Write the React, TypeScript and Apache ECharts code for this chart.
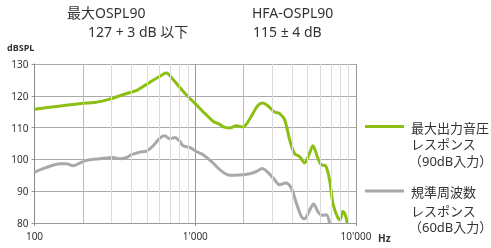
import React, { useEffect, useRef } from "react";
import * as echarts from "echarts";

const maxOutput: [number, number][] = [
  [100, 115.8], [195, 117.6], [237, 117.9], [286, 118.8], [363, 120.5], [439, 121.9],
  [498, 123.6], [631, 126.8], [662, 127.2], [728, 125.1], [840, 121.4], [924, 119.2],
  [993, 117.7], [1118, 115.0], [1174, 114.0], [1290, 112.0], [1420, 111.0], [1489, 110.3],
  [1563, 110.0], [1638, 109.9], [1803, 110.6], [1981, 110.2], [2181, 112.7], [2455, 117.0],
  [2637, 117.7], [2833, 116.8], [3117, 114.9], [3348, 114.4], [3597, 112.5], [3864, 106.2],
  [4150, 101.8], [4457, 100.9], [4786, 98.9], [5143, 102.0], [5391, 104.3], [5789, 100.4],
  [6080, 98.3], [6466, 98.0], [6845, 93.6], [7177, 86.3], [7709, 81.6], [7979, 81.0],
  [8280, 83.6], [8570, 82.6], [8818, 80.0],
];

const reference: [number, number][] = [
  [100, 96.0], [119, 97.5], [144, 98.6], [158, 98.6], [174, 98.0], [192, 98.9],
  [211, 99.7], [255, 100.2], [309, 100.6], [340, 100.2], [374, 100.6], [402, 101.5],
  [452, 102.3], [498, 102.6], [547, 104.3], [602, 106.7], [647, 107.4], [694, 106.5],
  [746, 106.9], [801, 105.7], [840, 104.3], [924, 103.8], [1017, 102.5], [1118, 101.5],
  [1260, 99.4], [1420, 96.8], [1638, 95.0], [1890, 95.1], [2181, 95.5], [2400, 96.2],
  [2615, 97.1], [2833, 95.9], [3117, 93.6], [3348, 92.0], [3649, 92.6], [3959, 91.0],
  [4253, 86.3], [4567, 82.1], [4786, 81.3], [5143, 84.0], [5445, 86.0], [5789, 83.6],
  [6167, 82.4], [6530, 82.6], [6845, 80.0],
];

const mediumGrid = [200, 2000];
const lightGrid = [300, 400, 500, 600, 700, 800, 900, 3000, 4000, 5000, 6000, 7000, 8000, 9000];

const legendMax = ["最大出力音圧", "レスポンス", "（90dB入力）"];
const legendRef = ["規準周波数", "レスポンス", "（60dB入力）"];

const GREEN = "#8cbe14";
const GRAY = "#a8a8a8";
const FONT = "'Noto Sans', 'Noto Sans CJK JP', sans-serif";

export default function App() {
  const ref = useRef<HTMLDivElement>(null);
  useEffect(() => {
    if (!ref.current) return;
    const chart = echarts.init(ref.current, null, { renderer: "svg" });
    const ts = (text: string, size: number, extra: any = {}) => ({
      fontFamily: FONT,
      fontSize: size,
      fill: "#333",
      text,
      verticalAlign: "middle",
      align: "left",
      ...extra,
    });
    chart.setOption({
      animation: false,
      grid: { left: 34.5, right: 135, top: 64, bottom: 25 },
      xAxis: {
        type: "log",
        logBase: 10,
        min: 100,
        max: 10000,
        axisLine: { lineStyle: { color: "#999" } },
        axisTick: { show: true, length: 3, lineStyle: { color: "#999" } },
        axisLabel: {
          fontFamily: FONT,
          fontSize: 10,
          color: "#333",
          margin: 8,
          formatter: (v: number) => String(Math.round(v)).replace(/\B(?=(\d{3})+(?!\d))/g, "'"),
        },
        splitLine: { show: true, lineStyle: { color: "#999", width: 1 } },
      },
      yAxis: {
        type: "value",
        min: 80,
        max: 130,
        interval: 10,
        axisLine: { show: true, lineStyle: { color: "#888" } },
        axisTick: { show: true, length: 3, lineStyle: { color: "#999" } },
        axisLabel: { fontFamily: FONT, fontSize: 10, color: "#333", margin: 6 },
        splitLine: { show: true, lineStyle: { color: "#aaa", width: 1 } },
      },
      series: [
        {
          type: "line",
          data: [],
          silent: true,
          markLine: {
            silent: true,
            symbol: "none",
            label: { show: false },
            lineStyle: { color: "#dcdcdc", type: "solid", width: 1 },
            data: lightGrid.map((x) => ({ xAxis: x })),
          },
        },
        {
          type: "line",
          data: [],
          silent: true,
          markLine: {
            silent: true,
            symbol: "none",
            label: { show: false },
            lineStyle: { color: "#bdbdbd", type: "solid", width: 1 },
            data: mediumGrid.map((x) => ({ xAxis: x })),
          },
        },
        {
          name: "規準周波数レスポンス",
          type: "line",
          data: reference,
          smooth: 0.3,
          showSymbol: false,
          lineStyle: { color: GRAY, width: 3 },
          z: 3,
        },
        {
          name: "最大出力音圧レスポンス",
          type: "line",
          data: maxOutput,
          smooth: 0.3,
          showSymbol: false,
          lineStyle: { color: GREEN, width: 3 },
          z: 4,
        },
      ],
      graphic: [
        { type: "text", x: 67, y: 12, style: ts("最大OSPL90", 14) },
        { type: "text", x: 88, y: 31, style: ts("127 + 3 dB 以下", 14) },
        { type: "text", x: 252, y: 12, style: ts("HFA-OSPL90", 14) },
        { type: "text", x: 253, y: 31, style: ts("115 ± 4 dB", 14) },
        { type: "text", x: 7, y: 47, style: ts("dBSPL", 9, { fontWeight: "bold" }) },
        { type: "text", x: 378, y: 238, style: ts("Hz", 10, { fontWeight: "bold" }) },
        { type: "line", shape: { x1: 365, y1: 126.5, x2: 404, y2: 126.5 }, style: { stroke: GREEN, lineWidth: 3 } },
        { type: "line", shape: { x1: 365, y1: 191, x2: 404, y2: 191 }, style: { stroke: GRAY, lineWidth: 3 } },
        ...legendMax.map((t, i) => ({
          type: "text",
          x: i === 2 ? 409 : 411,
          y: [127.5, 144, 161][i],
          style: ts(t, 13),
        })),
        ...legendRef.map((t, i) => ({
          type: "text",
          x: i === 2 ? 409 : 411,
          y: [191.5, 210.5, 227][i],
          style: ts(t, 13),
        })),
      ],
    });
    return () => chart.dispose();
  }, []);
  return (
    <div
      ref={ref}
      style={{ position: "fixed", left: 0, top: 0, width: 491, height: 248 }}
    />
  );
}
